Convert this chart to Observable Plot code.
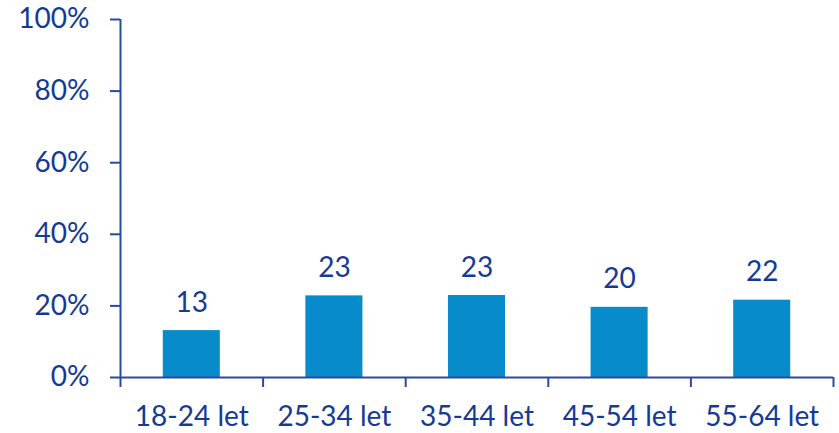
<!DOCTYPE html>
<html>
<head>
<meta charset="utf-8">
<script src="https://cdn.jsdelivr.net/npm/d3@7"></script>
<script src="https://cdn.jsdelivr.net/npm/@observablehq/plot@0.6"></script>
<style>
  html, body { margin: 0; padding: 0; background: #fff; }
  #chart svg { display: block; }
</style>
</head>
<body>
<div id="chart"></div>
<script>
const categories = ["18-24 let", "25-34 let", "35-44 let", "45-54 let", "55-64 let"];
const values = [13.1, 22.8, 22.9, 19.6, 21.6];
const yTicks = [0, 20, 40, 60, 80, 100];

const textColor = "#143a96";
const axisColor = "#2a4a9c";
const barColor = "#078bcb";

const data = categories.map((c, i) => ({ category: c, index: i, value: values[i] }));

const chart = Plot.plot({
  width: 839,
  height: 433,
  marginLeft: 120,
  marginRight: 6,
  marginTop: 19,
  marginBottom: 56,
  style: { fontFamily: "Lato, sans-serif", fontSize: "28px", color: textColor, background: "#fff" },
  x: { type: "linear", domain: [0, categories.length] },
  y: { domain: [0, 100] },
  marks: [
    Plot.rectY(data, {
      x1: d => d.index + 0.3,
      x2: d => d.index + 0.7,
      y: "value",
      fill: barColor
    }),
    Plot.text(data, {
      x: d => d.index + 0.5,
      y: "value",
      text: d => String(Math.round(d.value)),
      lineAnchor: "bottom",
      dy: -19,
      fill: textColor,
      fontSize: 28
    }),
    Plot.axisY({
      ticks: yTicks,
      tickFormat: d => d + "%",
      tickSize: 10,
      tickPadding: 21,
      stroke: axisColor,
      strokeWidth: 2,
      fill: textColor,
      fontSize: 28,
      label: null
    }),
    Plot.axisX({
      ticks: d3.range(0, categories.length + 1),
      tickFormat: () => "",
      tickSize: 10,
      stroke: axisColor,
      strokeWidth: 2,
      label: null
    }),
    Plot.axisX({
      ticks: categories.map((c, i) => i + 0.5),
      tickFormat: d => categories[Math.floor(d)],
      tickSize: 0,
      tickPadding: 29,
      fill: textColor,
      fontSize: 28,
      label: null
    }),
    Plot.ruleX([0], { stroke: axisColor, strokeWidth: 2 }),
    Plot.ruleY([0], { stroke: axisColor, strokeWidth: 2 })
  ]
});

document.getElementById("chart").appendChild(chart);
</script>
</body>
</html>
